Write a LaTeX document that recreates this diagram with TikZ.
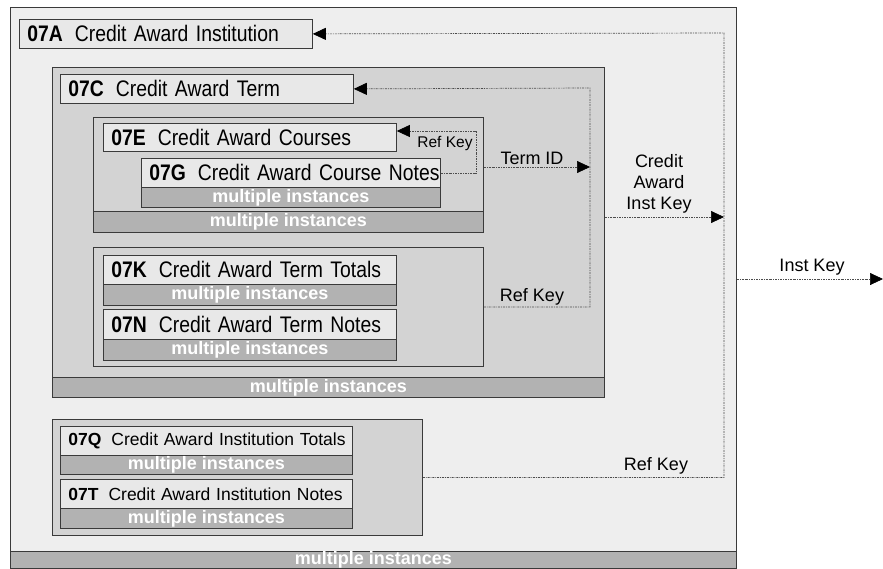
\documentclass[tikz,border=0pt]{standalone}
\usepackage{fontspec}
\setmainfont{Liberation Sans}
\newfontfamily\titlefont{Liberation Sans}[FakeStretch=0.86]
\usetikzlibrary{arrows.meta}

\definecolor{pagefill}{HTML}{EEEEEE}
\definecolor{groupfill}{HTML}{D3D3D3}
\definecolor{titlefill}{HTML}{E8E8E8}
\definecolor{barfill}{HTML}{B2B2B2}
\definecolor{edge}{HTML}{3A3A3A}

\tikzset{
  groupbox/.style={draw=edge, fill=groupfill, line width=0.8pt, anchor=north west, inner sep=0pt},
  titlebox/.style={draw=edge, fill=titlefill, line width=0.8pt, anchor=north west,
    minimum height=29pt, inner xsep=8pt, inner ysep=0pt, align=left,
    font=\titlefont\fontsize{22.5}{25}\selectfont},
  instbar/.style={draw=edge, fill=barfill, line width=0.8pt, anchor=north west, inner sep=0pt,
    text=white, font=\bfseries\fontsize{18}{20}\selectfont},
  keylink/.style={draw=black!70, line width=0.7pt, dash pattern=on 2pt off 1pt on 0.8pt off 1pt},
  keyarrow/.style={keylink, -{Triangle[length=13pt,width=12pt,color=black,fill=black]}},
  keylabel/.style={font=\fontsize{18}{21}\selectfont, inner sep=0pt},
}

\begin{document}
\begin{tikzpicture}[x=1pt, y=-1pt]
        \useasboundingbox (0,0) rectangle (883,568);

        % outer record
        \node[groupbox, fill=pagefill, minimum width=726pt, minimum height=561pt] (outer) at (10,7) {};
        \node[instbar, minimum width=726pt, minimum height=17pt] (barA) at (10,551) {multiple instances};
        \node[titlebox, text width=277pt] (t07A) at (19,19) {\mbox{\textbf{07A}\hspace{12pt}Credit Award Institution}};

        % term group
        \node[groupbox, minimum width=552pt, minimum height=330pt] (grpC) at (52,67) {};
        \node[instbar, minimum width=552pt, minimum height=20pt] (barC) at (52,377) {multiple instances};
        \node[titlebox, text width=277pt] (t07C) at (60,74) {\mbox{\textbf{07C}\hspace{12pt}Credit Award Term}};

        % courses group
        \node[groupbox, minimum width=390pt, minimum height=115pt] (grpE) at (93,117) {};
        \node[instbar, minimum width=390pt, minimum height=21pt] (barE) at (93,211) {multiple instances};
        \node[titlebox, text width=277pt, minimum height=28pt] (t07E) at (103,123) {\mbox{\textbf{07E}\hspace{12pt}Credit Award Courses}};
        \node[titlebox, text width=283pt] (t07G) at (141,158) {\mbox{\textbf{07G}\hspace{12pt}Credit Award Course Notes}};
        \node[instbar, minimum width=299pt, minimum height=20pt] (barG) at (141,187) {multiple instances};

        % term totals / notes group
        \node[groupbox, minimum width=390pt, minimum height=119pt] (grpK) at (93,247) {};
        \node[titlebox, text width=277pt] (t07K) at (103,255) {\mbox{\textbf{07K}\hspace{12pt}Credit Award Term Totals}};
        \node[instbar, minimum width=293pt, minimum height=21pt] (barK) at (103,284) {multiple instances};
        \node[titlebox, text width=277pt, minimum height=30pt] (t07N) at (103,309) {\mbox{\textbf{07N}\hspace{12pt}Credit Award Term Notes}};
        \node[instbar, minimum width=293pt, minimum height=21pt] (barN) at (103,339) {multiple instances};

        % institution totals / notes group
        \node[groupbox, minimum width=370pt, minimum height=116pt] (grpQ) at (52,419) {};
        \node[titlebox, text width=276pt, font=\fontsize{17.5}{20}\selectfont] (t07Q) at (60,426) {\mbox{\textbf{07Q}\hspace{10pt}Credit Award Institution Totals}};
        \node[instbar, minimum width=292pt, minimum height=19pt] (barQ) at (60,455) {multiple instances};
        \node[titlebox, text width=276pt, font=\fontsize{17.5}{20}\selectfont] (t07T) at (60,479) {\mbox{\textbf{07T}\hspace{10pt}Credit Award Institution Notes}};
        \node[instbar, minimum width=292pt, minimum height=20pt] (barT) at (60,508) {multiple instances};

        % key links
        \coordinate (loopE) at (476,131);
        \coordinate (termJ) at (590,88);
        \coordinate (instJ) at (724,33);
        \coordinate (outK) at (883,279);

        \draw[keyarrow] (t07G.east) -| (loopE) -- (t07E.east |- loopE);
        \draw[keyarrow] (grpE.east |- 0,167) -- (termJ |- 0,167);
        \draw[keyarrow] (grpK.east) -| (termJ) -- (t07C.east);
        \draw[keyarrow] (grpC.east |- 0,217) -- (instJ |- 0,217);
        \draw[keyarrow] (grpQ.east) -| (instJ) -- (t07A.east);
        \draw[keyarrow] (outer.east |- outK) -- (outK);

        % link labels
        \node[keylabel, font=\fontsize{15.5}{18}\selectfont] (lRefE) at (445,143) {Ref Key};
        \node[keylabel] (lTerm) at (532,158) {Term ID};
        \node[keylabel] (lRefC) at (532,297) {Ref Key};
        \node[keylabel, align=center, font=\fontsize{18}{21}\selectfont] (lInst) at (659,184) {Credit\\Award\\Inst Key};
        \node[keylabel] (lOut) at (812,267) {Inst Key};
        \node[keylabel] (lRefA) at (656,466) {Ref Key};

\end{tikzpicture}
\end{document}
